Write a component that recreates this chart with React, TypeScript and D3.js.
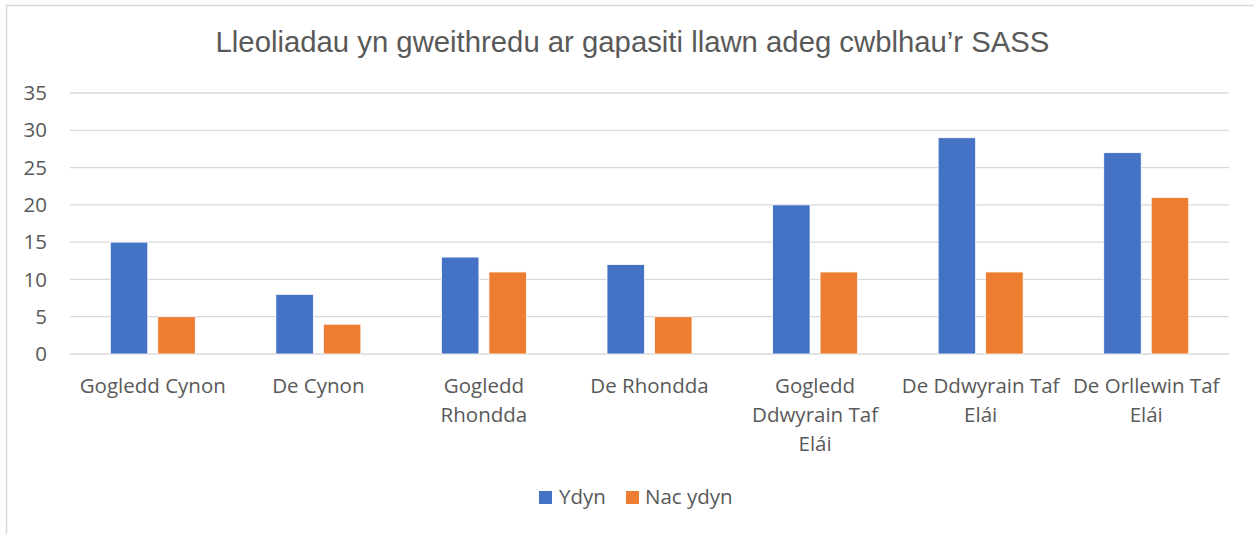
import React from "react";
import * as d3 from "d3";

const categories: string[][] = [
  ["Gogledd Cynon"],
  ["De Cynon"],
  ["Gogledd", "Rhondda"],
  ["De Rhondda"],
  ["Gogledd", "Ddwyrain Taf", "Elái"],
  ["De Ddwyrain Taf", "Elái"],
  ["De Orllewin Taf", "Elái"],
];
const ydyn = [15, 8, 13, 12, 20, 29, 27];
const nacYdyn = [5, 4, 11, 5, 11, 11, 21];
const yTicks = [0, 5, 10, 15, 20, 25, 30, 35];
const seriesNames = ["Ydyn", "Nac ydyn"];
const colors = ["#4472C4", "#ED7D31"];
const title = "Lleoliadau yn gweithredu ar gapasiti llawn adeg cwblhau\u2019r SASS";

const W = 1254;
const H = 534;
const left = 70;
const right = 1229;
const top = 93;
const bottom = 354;
const font = "'Open Sans', sans-serif";
const titleFont = "'Liberation Sans', Arial, sans-serif";
const textColor = "#595959";
const fs = 20.5;

export default function App() {
  const x = d3
    .scaleBand<number>()
    .domain(d3.range(categories.length))
    .range([left, right]);
  const y = d3.scaleLinear().domain([0, 35]).range([bottom, top]);
  const barW = 37.5;
  const gap = 10;
  const x1 = d3
    .scaleOrdinal<number, number>()
    .domain([0, 1])
    .range([(x.bandwidth() - 2 * barW - gap) / 2, (x.bandwidth() - 2 * barW - gap) / 2 + barW + gap]);
  const series = [ydyn, nacYdyn];

  return (
    <svg
      width={W}
      height={H}
      style={{ position: "absolute", left: 0, top: 0, background: "#fff" }}
    >
      <rect x={6.5} y={5.5} width={W + 10} height={H + 10} fill="#fff" stroke="#d9d9d9" strokeWidth={1.5} />
      <text
        x={632.5}
        y={52}
        textAnchor="middle"
        fontFamily={titleFont}
        fontSize={29.3}
        fill={textColor}
      >
        {title}
      </text>
      {yTicks.map((t) => (
        <g key={t}>
          <line x1={left} x2={right} y1={y(t)} y2={y(t)} stroke="#d9d9d9" strokeWidth={1.3} />
          <text
            x={47}
            y={y(t)}
            dy="0.35em"
            textAnchor="end"
            fontFamily={font}
            fontSize={fs}
            fill={textColor}
          >
            {t}
          </text>
        </g>
      ))}
      {series.map((vals, si) =>
        vals.map((v, i) => (
          <rect
            key={`${si}-${i}`}
            x={(x(i) ?? 0) + x1(si)}
            y={y(v)}
            width={barW}
            height={y(0) - y(v)}
            fill={colors[si]}
            stroke="#fff"
            strokeWidth={0.8}
          />
        ))
      )}
      {categories.map((lines, i) => (
        <text
          key={i}
          x={(x(i) ?? 0) + x.bandwidth() / 2}
          y={393}
          textAnchor="middle"
          fontFamily={font}
          fontSize={fs}
          fill={textColor}
        >
          {lines.map((l, li) => (
            <tspan key={li} x={(x(i) ?? 0) + x.bandwidth() / 2} y={393 + li * 29}>
              {l}
            </tspan>
          ))}
        </text>
      ))}
      <g>
        <rect x={539} y={491} width={13} height={13} fill={colors[0]} />
        <text x={559} y={504} fontFamily={font} fontSize={fs} fill={textColor}>
          {seriesNames[0]}
        </text>
        <rect x={626} y={491} width={13} height={13} fill={colors[1]} />
        <text x={645} y={504} fontFamily={font} fontSize={fs} fill={textColor}>
          {seriesNames[1]}
        </text>
      </g>
    </svg>
  );
}
